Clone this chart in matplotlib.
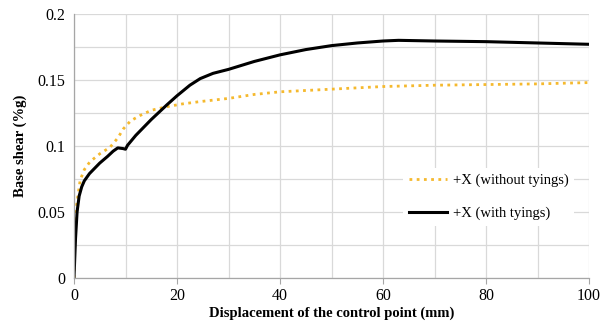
import matplotlib
matplotlib.use("Agg")
import matplotlib.pyplot as plt
from matplotlib.ticker import MultipleLocator

plt.rcParams['font.family'] = ['Liberation Serif', 'DejaVu Serif']

# +X (with tyings)
x_with = [0, 0.3, 0.6, 1.0, 1.5, 2.0, 3.0, 4.0, 5.0, 6.5, 7.6, 8.5, 9.5, 10.0, 10.4, 12, 15, 18, 20, 22.5, 24.5, 27, 30, 35, 40, 45, 50, 55, 60, 63, 70, 80, 90, 100]
y_with = [0, 0.030, 0.050, 0.062, 0.069, 0.0735, 0.079, 0.083, 0.087, 0.092, 0.096, 0.0985, 0.098, 0.0975, 0.1005, 0.108, 0.120, 0.131, 0.138, 0.146, 0.151, 0.155, 0.158, 0.164, 0.169, 0.173, 0.176, 0.178, 0.1795, 0.180, 0.1795, 0.179, 0.178, 0.177]

# +X (without tyings)
x_wo = [0, 0.2, 0.5, 1.2, 2.0, 3.1, 5.0, 7.0, 8.5, 9.6, 11, 12.8, 15, 18, 21, 24.5, 30, 35, 40, 50, 60, 70, 80, 90, 100]
y_wo = [0, 0.035, 0.055, 0.074, 0.082, 0.088, 0.094, 0.099, 0.106, 0.113, 0.119, 0.123, 0.127, 0.1297, 0.1318, 0.1336, 0.136, 0.139, 0.141, 0.143, 0.145, 0.146, 0.1465, 0.147, 0.148]

fig = plt.figure(figsize=(6.03, 3.32), dpi=100)
ax = fig.add_axes([0.1227, 0.163, 0.977 - 0.1227, 0.958 - 0.163])

ax.plot(x_wo, y_wo, color='#F5B92E', linestyle=(0, (1, 1.6)), linewidth=2.0, label='+X (without tyings)')
ax.plot(x_with, y_with, color='black', linewidth=2.2, label='+X (with tyings)')

ax.set_xlim(0, 100)
ax.set_ylim(0, 0.2)
ax.xaxis.set_major_locator(MultipleLocator(20))
ax.xaxis.set_minor_locator(MultipleLocator(10))
ax.yaxis.set_minor_locator(MultipleLocator(0.025))
ax.set_yticks([0, 0.05, 0.1, 0.15, 0.2])
ax.set_yticklabels(['0', '0.05', '0.1', '0.15', '0.2'])

ax.grid(which='both', color='#D9D9D9', linewidth=0.9)
ax.set_axisbelow(True)
for s in ['top', 'right']:
    ax.spines[s].set_visible(False)
for s in ['left', 'bottom']:
    ax.spines[s].set_color('#A6A6A6')
    ax.spines[s].set_linewidth(0.9)

ax.tick_params(axis='x', which='major', length=4, color='#A6A6A6', labelsize=11.5, pad=3)
ax.tick_params(axis='x', which='minor', length=0)
ax.tick_params(axis='y', which='both', length=0, labelsize=11.5, pad=6)

ax.set_xlabel('Displacement of the control point (mm)', fontsize=10.5, fontweight='bold', labelpad=2)
ax.set_ylabel('Base shear (%g)', fontsize=10.5, fontweight='bold', labelpad=8)

leg = ax.legend(loc='lower right', bbox_to_anchor=(0.985, 0.17), frameon=True, fontsize=10.5,
                handlelength=2.6, labelspacing=1.3, borderpad=0.4, handletextpad=0.4)
leg.get_frame().set_edgecolor('none')
leg.get_frame().set_facecolor('white')
leg.get_frame().set_alpha(1)

fig.savefig('out.png', dpi=100)
